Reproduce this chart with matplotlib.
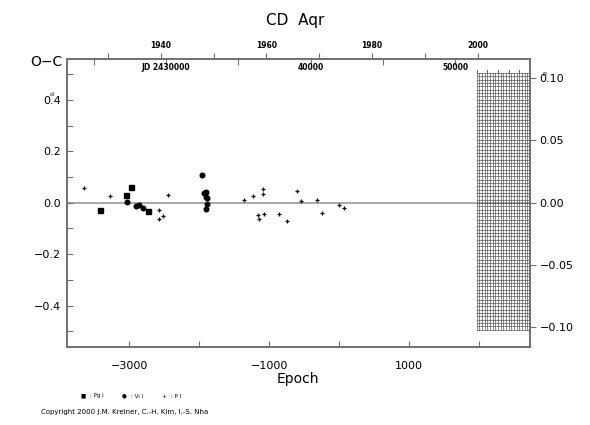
import matplotlib
matplotlib.use("Agg")
import matplotlib.pyplot as plt
import numpy as np

# ---- data (epoch, O-C in days) ----
pg_epoch = [-3418, -3047, -2976, -2728]
pg_oc = [-0.027, 0.031, 0.060, -0.032]

vis_epoch = [-3033, -2900, -2866, -2800, -1965, -1933, -1904, -1908, -1894, -1890, -1908]
vis_oc = [0.001, -0.012, -0.009, -0.019, 0.109, 0.038, 0.042, 0.021, 0.019, -0.004, -0.025]

pe_epoch = [-3646, -3271, -2580, -2571, -2523, -2443, -1365, -1228, -1161, -1151,
            -1085, -1085, -1071, -861, -751, -608, -543, -314, -251, 0, 63]
pe_oc = [0.057, 0.027, -0.030, -0.062, -0.053, 0.031, 0.012, 0.025, -0.047, -0.063,
         0.053, 0.035, -0.043, -0.043, -0.070, 0.044, 0.005, 0.012, -0.040, -0.008, -0.021]

bottom_ticks = [-3000, -2000, -1000, 0, 1000, 2000]
bottom_labels = ["−3000", "", "−1000", "", "1000", ""]
left_ticks = [-0.4, -0.2, 0.0, 0.2, 0.4]
left_labels = ["−0.4", "−0.2", "0.0", "0.2", "0.4"]
right_ticks = [-0.10, -0.05, 0.0, 0.05, 0.10]
right_labels = ["−0.10", "−0.05", "0.00", "0.05", "0.10"]
year_ticks = [1930, 1940, 1950, 1960, 1970, 1980, 1990, 2000]
year_labels = ["", "1940", "", "1960", "", "1980", "", "2000"]
jd_ticks = [2425000, 2430000, 2435000, 2440000, 2445000, 2450000]
jd_text = {2430000: "JD 2430000", 2440000: "40000", 2450000: "50000"}

T0 = 2441972.0
P = 4.84
XMIN, XMAX = -3894, 2724
YLIM = 0.56

def e2jd(e):
    return T0 + P * np.asarray(e, dtype=float)

def jd2yr(jd):
    return 2000.0 + (np.asarray(jd, dtype=float) - 2451544.5) / 365.25

frame = "#707070"
fig = plt.figure(figsize=(5.9, 4.25), dpi=100)
ax = fig.add_axes([66.7 / 590, 78.3 / 425, (530 - 66.7) / 590, (346.7 - 58.7) / 425])
ax.set_xlim(XMIN, XMAX)
ax.set_ylim(-YLIM, YLIM)
for s in ax.spines.values():
    s.set_color(frame)
    s.set_linewidth(1.4)

# zero line
ax.axhline(0, color="#9a9a9a", lw=1.2, zorder=1)

# future grid region
gx0, gx1 = 1963, XMAX
gy0, gy1 = -0.494, 0.505
for xv in np.linspace(gx0, gx1, 21):
    ax.plot([xv, xv], [gy0, gy1], color="#4a4a4a", lw=0.45, zorder=1)
for yv in np.linspace(gy0, gy1, 78):
    ax.plot([gx0, gx1], [yv, yv], color="#4a4a4a", lw=0.45, zorder=1)
for xv in np.linspace(gx0, gx1, 21)[::4]:
    ax.plot([xv, xv], [gy1, gy1 + 0.012], color="#4a4a4a", lw=0.6, zorder=1)

ax.plot(pg_epoch, pg_oc, "s", color="black", ms=3.6, zorder=3)
ax.plot(vis_epoch, vis_oc, "o", color="black", ms=3.3, zorder=3)
ax.plot(pe_epoch, pe_oc, "+", color="black", ms=3.5, mew=0.9, zorder=3)

ax.set_xticks(bottom_ticks)
ax.set_xticklabels(bottom_labels)
ax.set_yticks(left_ticks)
ax.set_yticklabels(left_labels)
ax.set_yticks([-0.5, -0.3, -0.1, 0.1, 0.3, 0.5], minor=True)
ax.tick_params(axis="x", direction="in", length=4, width=0.8, color=frame,
               labelsize=8, pad=10, top=False)
ax.tick_params(axis="y", which="both", direction="in", length=4, width=0.8, color=frame,
               labelsize=8, pad=4, right=True)

ax.set_xlabel("Epoch", fontsize=10, labelpad=1)

# right axis (phase units)
axr = ax.twinx()
axr.set_ylim(-YLIM * 0.2064, YLIM * 0.2064)
axr.set_yticks(right_ticks)
axr.set_yticklabels(right_labels)
axr.tick_params(axis="y", direction="out", length=4, width=0.8, color=frame,
                labelsize=8, pad=3)
for s in axr.spines.values():
    s.set_visible(False)

# top year axis
axy = ax.twiny()
axy.set_xlim(float(jd2yr(e2jd(XMIN))), float(jd2yr(e2jd(XMAX))))
axy.set_xticks(year_ticks)
axy.set_xticklabels(year_labels)
axy.tick_params(axis="x", direction="out", length=4, width=0.8, color=frame,
                labelsize=5.5, pad=2)
for lab in axy.get_xticklabels():
    lab.set_fontweight("bold")
for s in axy.spines.values():
    s.set_visible(False)

# top JD axis
axj = ax.twiny()
axj.set_xlim(float(e2jd(XMIN)), float(e2jd(XMAX)))
axj.set_xticks(jd_ticks)
axj.set_xticklabels([""] * len(jd_ticks))
axj.tick_params(axis="x", direction="in", length=4, width=0.8, color=frame)
for s in axj.spines.values():
    s.set_visible(False)
for jd, txt in jd_text.items():
    axj.text(jd, 0.968, txt, transform=axj.get_xaxis_transform(), ha="center", va="center",
             fontsize=5.5, fontweight="bold")

# labels
fig.text(295 / 590, 1 - 20 / 425, "CD  Aqr", ha="center", va="center", fontsize=11)
fig.text(46 / 590, 1 - 62 / 425, "O−C", ha="center", va="center", fontsize=10)
fig.text(51.5 / 590, 1 - 94 / 425, "d", ha="center", va="center", fontsize=4.5)
fig.text(544 / 590, 1 - 73 / 425, "p", ha="center", va="center", fontsize=4.5)

# legend row
fig.text(83 / 590, 1 - 396 / 425, "■", ha="center", va="center", fontsize=4)
fig.text(90 / 590, 1 - 396 / 425, ": Pg I", ha="left", va="center", fontsize=4)
fig.text(124 / 590, 1 - 396 / 425, "●", ha="center", va="center", fontsize=4)
fig.text(131 / 590, 1 - 396 / 425, ": Vi I", ha="left", va="center", fontsize=4)
fig.text(164 / 590, 1 - 396 / 425, "+", ha="center", va="center", fontsize=4)
fig.text(171 / 590, 1 - 396 / 425, ": P I", ha="left", va="center", fontsize=4)
fig.text(41 / 590, 1 - 412 / 425, "Copyright 2000 J.M. Kreiner, C.-H. Kim, I.-S. Nha",
         ha="left", va="center", fontsize=5)

fig.savefig("out.png", dpi=100)
